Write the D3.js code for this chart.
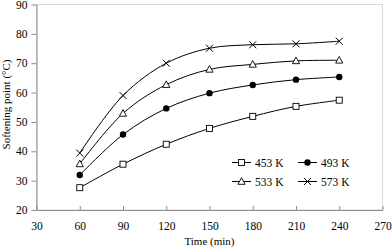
<!DOCTYPE html>
<head>
  <meta charset="utf-8">
  <style>
    body { margin: 0; background: #fff; }
  </style>
  <script src="https://cdn.jsdelivr.net/npm/d3@7/dist/d3.min.js"></script>
</head>
<body>
<div id=chart></div>
<script>
// data
const times = [60, 90, 120, 150, 180, 210, 240]
const s453 = [27.6, 35.6, 42.4, 47.8, 51.9, 55.3, 57.4]
const s493 = [31.9, 45.7, 54.6, 59.8, 62.6, 64.4, 65.3]
const s533 = [35.7, 52.9, 62.7, 67.9, 69.6, 70.8, 71.0]
const s573 = [39.4, 59.0, 70.0, 75.1, 76.3, 76.6, 77.5]
const xTicks = [30, 60, 90, 120, 150, 180, 210, 240, 270]
const yTicks = [20, 30, 40, 50, 60, 70, 80, 90]
const series = [
  { name: '453 K', values: s453, marker: 'square' },
  { name: '493 K', values: s493, marker: 'circle' },
  { name: '533 K', values: s533, marker: 'triangle' },
  { name: '573 K', values: s573, marker: 'cross' },
]

const FONT = '"Liberation Serif"'
const width = 392, height = 251
const margin = { top: 4.5, right: 9.5, bottom: 41, left: 36.5 }

const svg = d3.select('#chart').append('svg')
  .attr('width', width).attr('height', height)
  .style('font-family', FONT)

const x = d3.scaleLinear().domain([30, 270]).range([margin.left, width - margin.right])
const y = d3.scaleLinear().domain([20, 90]).range([height - margin.bottom, margin.top])

// plot frame
svg.append('rect')
  .attr('x', x(30)).attr('y', y(90))
  .attr('width', x(270) - x(30)).attr('height', y(20) - y(90))
  .attr('fill', 'none').attr('stroke', '#d9d9d9').attr('stroke-width', 1)

// axes
const ax = svg.append('g')
  .attr('transform', `translate(0,${y(20)})`)
  .call(d3.axisBottom(x).tickValues(xTicks).tickSizeInner(-4).tickSizeOuter(0).tickPadding(12))
  .attr('font-family', null)
ax.select('.domain').attr('stroke', '#8c8c8c')
ax.selectAll('.tick line').attr('stroke', '#8c8c8c')
ax.selectAll('.tick text').attr('font-size', 11.5).attr('fill', '#000').style('font-family', FONT)

const ay = svg.append('g')
  .attr('transform', `translate(${x(30)},0)`)
  .call(d3.axisLeft(y).tickValues(yTicks).tickSizeInner(5).tickSizeOuter(0).tickPadding(4))
  .attr('font-family', null)
ay.select('.domain').attr('stroke', '#8c8c8c')
ay.selectAll('.tick line').attr('stroke', '#8c8c8c')
ay.selectAll('.tick text').attr('font-size', 11.5).attr('fill', '#000').style('font-family', FONT)

// axis titles
svg.append('text')
  .attr('x', (x(30) + x(270)) / 2).attr('y', 244.5)
  .attr('text-anchor', 'middle').attr('font-size', 11).style('font-family', FONT)
  .text('Time (min)')
svg.append('text')
  .attr('transform', `translate(9.5,104.5) rotate(-90)`)
  .attr('text-anchor', 'middle').attr('font-size', 11).style('font-family', FONT)
  .text('Softening point (°C)')

const drawMarker = (g, type) => {
  if (type === 'square') {
    g.append('rect').attr('x', -3).attr('y', -3).attr('width', 6).attr('height', 6)
      .attr('fill', '#fff').attr('stroke', '#000').attr('stroke-width', 0.9)
  } else if (type === 'circle') {
    g.append('circle').attr('r', 3.2).attr('fill', '#000')
  } else if (type === 'triangle') {
    g.append('path').attr('d', 'M0,-3.8L3.6,2.8L-3.6,2.8Z')
      .attr('fill', '#fff').attr('stroke', '#000').attr('stroke-width', 0.9)
  } else {
    g.append('path').attr('d', 'M-3.5,-3.5L3.5,3.5M-3.5,3.5L3.5,-3.5')
      .attr('stroke', '#000').attr('stroke-width', 1)
  }
}

const line = d3.line()
  .x((d, i) => x(times[i]))
  .y(d => y(d))
  .curve(d3.curveCatmullRom.alpha(0.5))

series.forEach(s => {
  svg.append('path')
    .attr('d', line(s.values))
    .attr('fill', 'none').attr('stroke', '#000').attr('stroke-width', 1)
  s.values.forEach((v, i) => {
    const g = svg.append('g').attr('transform', `translate(${x(times[i])},${y(v)})`)
    drawMarker(g, s.marker)
  })
})

// legend
const legendCols = [232, 298]
const legendRows = [162.5, 181.5]
series.forEach((s, i) => {
  const lx = legendCols[i % 2], ly = legendRows[Math.floor(i / 2)]
  const g = svg.append('g').attr('transform', `translate(${lx},${ly})`)
  g.append('line').attr('x1', 0).attr('x2', 19).attr('stroke', '#000').attr('stroke-width', 1)
  const m = g.append('g').attr('transform', 'translate(9.5,0)')
  drawMarker(m, s.marker)
  g.append('text').attr('x', 23).attr('y', 4).attr('font-size', 11.5).style('font-family', FONT).text(s.name)
})
</script>
</body>
